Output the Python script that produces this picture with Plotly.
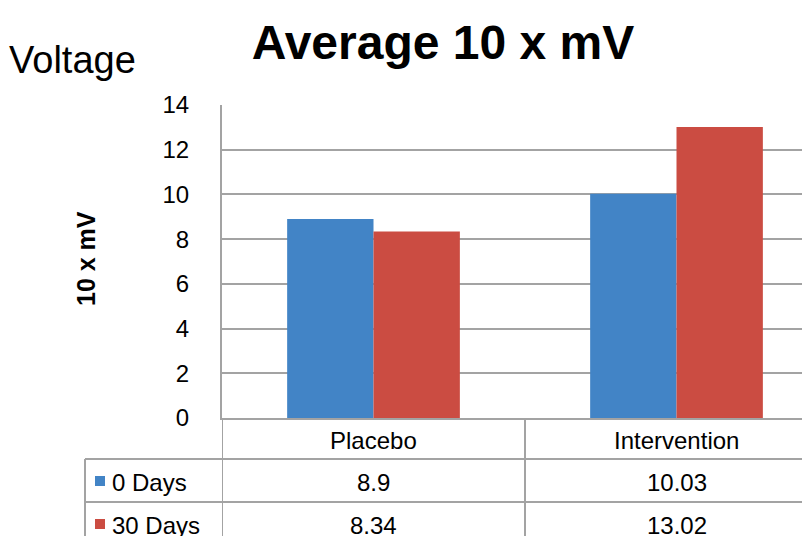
import plotly.graph_objects as go

categories = ["Placebo", "Intervention"]
series_names = ["0 Days", "30 Days"]
values_0_days = [8.9, 10.03]
values_30_days = [8.34, 13.02]
y_ticks = [0, 2, 4, 6, 8, 10, 12, 14]

colors = ["#4284c6", "#cb4c42"]
grid_color = "#a3a3a3"
FONT = "Liberation Sans, Arial, sans-serif"

OFF = 8  # page body margin
W, H = 810 - OFF, 536 - OFF
L, T, B = 222 - OFF, 105 - OFF, 418 - OFF
PW = W - L
PH = B - T


def px(xs):
    return (xs - OFF - L) / PW


def py(ys):
    return (B - (ys - OFF)) / PH


fig = go.Figure()
for name, vals, col in zip(series_names, [values_0_days, values_30_days], colors):
    fig.add_trace(go.Bar(
        x=list(range(len(categories))), y=vals, name=name,
        marker=dict(color=col, line=dict(width=0)),
        showlegend=False,
    ))

shapes = []
line = dict(color=grid_color, width=2)
for ys in [459, 502]:
    shapes.append(dict(type="line", xref="paper", yref="paper",
                       x0=px(85), x1=px(815), y0=py(ys), y1=py(ys), line=line))
shapes.append(dict(type="line", xref="paper", yref="paper",
                   x0=px(85), x1=px(85), y0=py(459), y1=py(560), line=line))
for xb in [-0.5, 0.5]:
    shapes.append(dict(type="line", xref="x", yref="paper",
                       x0=xb, x1=xb, y0=0, y1=py(560), line=line))

annotations = []
tf = dict(size=24, color="black", family=FONT)
for i, cat in enumerate(categories):
    annotations.append(dict(x=i, xref="x", y=py(440), yref="paper", text=cat,
                            xanchor="center", yanchor="middle", showarrow=False, font=tf))
    for r, vals in enumerate([values_0_days, values_30_days]):
        annotations.append(dict(x=i, xref="x", y=py(482 + 43 * r), yref="paper",
                                text=f"{vals[i]:g}", xanchor="center", yanchor="middle",
                                showarrow=False, font=tf))
for r, (name, col) in enumerate(zip(series_names, colors)):
    yc = 481 + 43 * r
    shapes.append(dict(type="rect", xref="paper", yref="paper",
                       x0=px(95), x1=px(105), y0=py(yc - 5), y1=py(yc + 5),
                       fillcolor=col, line=dict(width=0)))
    annotations.append(dict(x=px(110), xref="paper", y=py(yc + 1), yref="paper",
                            text=name, xanchor="left", yanchor="middle",
                            showarrow=False, font=tf))

annotations.append(dict(x=px(86), xref="paper", y=py(259), yref="paper",
                        text="<b>10 x mV</b>", textangle=-90, showarrow=False,
                        xanchor="center", yanchor="middle",
                        font=dict(size=25, color="black", family=FONT)))
annotations.append(dict(x=px(7), xref="paper", y=py(60), yref="paper",
                        text="Voltage", xanchor="left", yanchor="middle", showarrow=False,
                        font=dict(size=38, color="black", family=FONT)))

fig.update_layout(
    width=W, height=H,
    margin=dict(l=L, r=0, t=T, b=H - B, pad=0),
    paper_bgcolor="white", plot_bgcolor="white",
    title=dict(text="<b>Average 10 x mV</b>", x=(443 - OFF) / W, xanchor="center",
               y=1 - (42 - OFF) / H, yanchor="middle", xref="container", yref="container",
               font=dict(size=48, color="black", family=FONT)),
    barmode="group", bargap=0.43, bargroupgap=0,
    xaxis=dict(range=[-0.5, -0.5 + PW / 303], showticklabels=False, showgrid=False,
               zeroline=False, showline=True, linecolor=grid_color, linewidth=2, ticks=""),
    yaxis=dict(range=[0, 14], tickvals=y_ticks, showgrid=True, gridcolor=grid_color,
               gridwidth=2, zeroline=False, showline=True, linecolor=grid_color,
               linewidth=2, ticks="", ticklabelstandoff=26,
               tickfont=dict(size=24, color="black", family=FONT)),
    shapes=shapes, annotations=annotations,
    font=dict(family=FONT),
)

fig.write_html("out.html")
